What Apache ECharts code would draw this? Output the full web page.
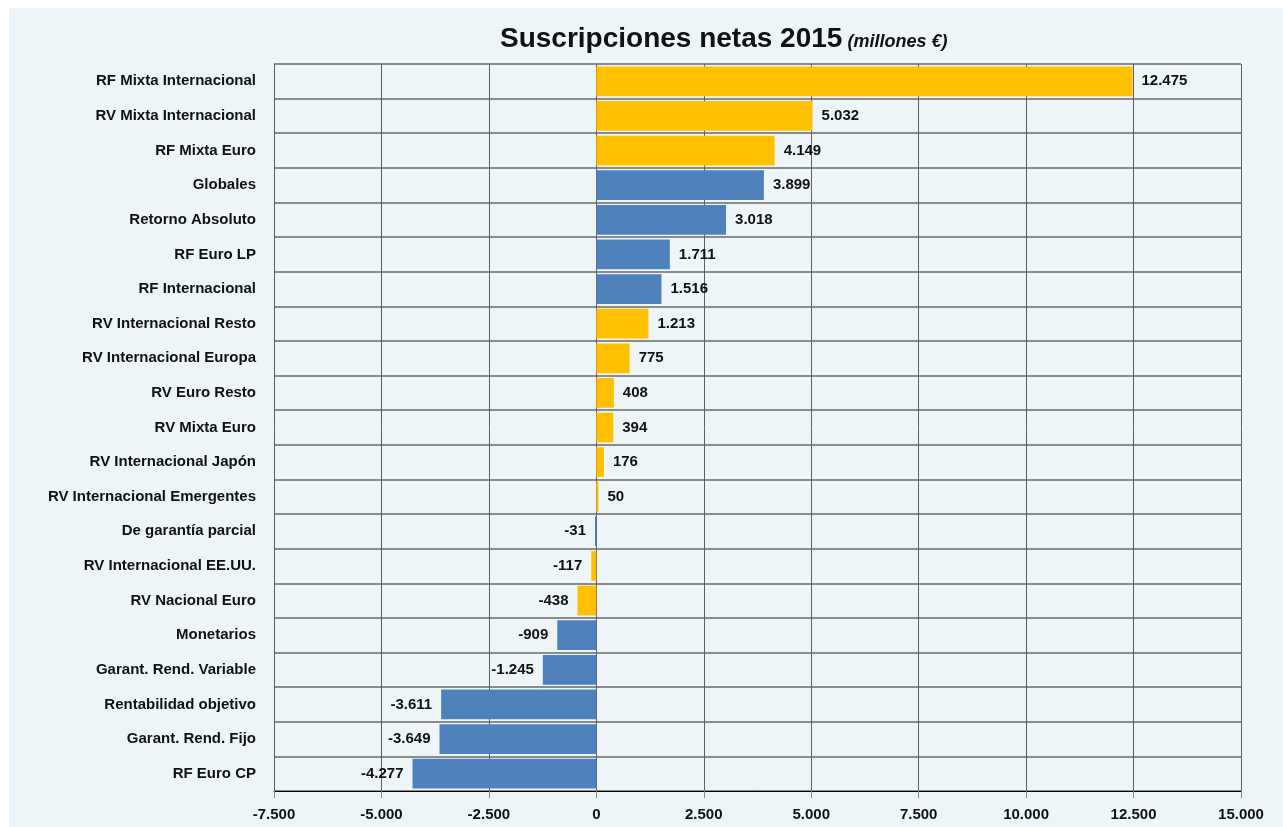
<!DOCTYPE html>
<html>
<head>
<meta charset="utf-8">
<script src="https://cdn.jsdelivr.net/npm/echarts@6/dist/echarts.min.js"></script>
<style>
  html, body { margin: 0; padding: 0; background: #ffffff; }
  #chart {
    position: absolute;
    left: 9px;
    top: 8px;
    width: 1274px;
    height: 819px;
    background: #edf5f8;
  }
</style>
</head>
<body>
<div id="chart"></div>
<script>
const categories = [
  'RF Mixta Internacional', 'RV Mixta Internacional', 'RF Mixta Euro', 'Globales',
  'Retorno Absoluto', 'RF Euro LP', 'RF Internacional', 'RV Internacional Resto',
  'RV Internacional Europa', 'RV Euro Resto', 'RV Mixta Euro', 'RV Internacional Japón',
  'RV Internacional Emergentes', 'De garantía parcial', 'RV Internacional EE.UU.',
  'RV Nacional Euro', 'Monetarios', 'Garant. Rend. Variable', 'Rentabilidad objetivo',
  'Garant. Rend. Fijo', 'RF Euro CP'
]
const values = [
  12475, 5032, 4149, 3899, 3018, 1711, 1516, 1213, 775, 408, 394, 176, 50,
  -31, -117, -438, -909, -1245, -3611, -3649, -4277
]
// true = highlighted (yellow) category
const highlighted = [
  true, true, true, false, false, false, false, true, true, true, true, true, true,
  false, true, true, false, false, false, false, false
]
const xMin = -7500
const xMax = 15000
const xStep = 2500

const FONT = '"Liberation Sans Narrow", "Arial Narrow", "Liberation Sans", sans-serif'
const YELLOW = '#ffc000'
const BLUE = '#4f81bd'

function fmt(v) {
  const s = Math.abs(v).toString().replace(/\B(?=(\d{3})+(?!\d))/g, '.')
  return (v < 0 ? '-' : '') + s
}

const chart = echarts.init(document.getElementById('chart'), null, { renderer: 'canvas' })

chart.setOption({
  backgroundColor: 'transparent',
  animation: false,
  title: {
    text: '{a|Suscripciones netas 2015} {b|(millones €)}',
    left: 486,
    top: 12,
    textStyle: {
      rich: {
        a: { fontFamily: FONT, fontSize: 28, fontWeight: 'bold', color: '#111' },
        b: { fontFamily: FONT, fontSize: 18, fontStyle: 'italic', color: '#111', padding: [6, 0, 0, 0] }
      }
    }
  },
  grid: { left: 265, right: 42, top: 56, bottom: 36 },
  xAxis: {
    type: 'value',
    min: xMin,
    max: xMax,
    interval: xStep,
    axisLine: { show: true, lineStyle: { color: '#000', width: 1 } },
    axisTick: { show: true, length: 7, lineStyle: { color: '#888', width: 1 } },
    axisLabel: {
      fontFamily: FONT, fontSize: 15, fontWeight: 'bold', color: '#111', margin: 16,
      formatter: fmt
    },
    splitLine: { show: true, lineStyle: { color: '#606060', width: 1 } }
  },
  yAxis: {
    type: 'category',
    data: categories,
    inverse: true,
    axisLine: { show: false },
    axisTick: { show: false },
    axisLabel: {
      fontFamily: FONT, fontSize: 15, fontWeight: 'bold', color: '#111', margin: 18
    },
    splitLine: { show: true, interval: 0, lineStyle: { color: '#8c8c8c', width: 2 } }
  },
  series: [{
    type: 'bar',
    barCategoryGap: '14%',
    data: values.map((v, i) => ({
      value: v,
      itemStyle: { color: highlighted[i] ? YELLOW : BLUE },
      label: { position: v < 0 ? 'left' : 'right' }
    })),
    label: {
      show: true,
      distance: 9,
      fontFamily: FONT, fontSize: 15, fontWeight: 'bold', color: '#111',
      formatter: (p) => fmt(p.value)
    }
  }]
})
</script>
</body>
</html>
